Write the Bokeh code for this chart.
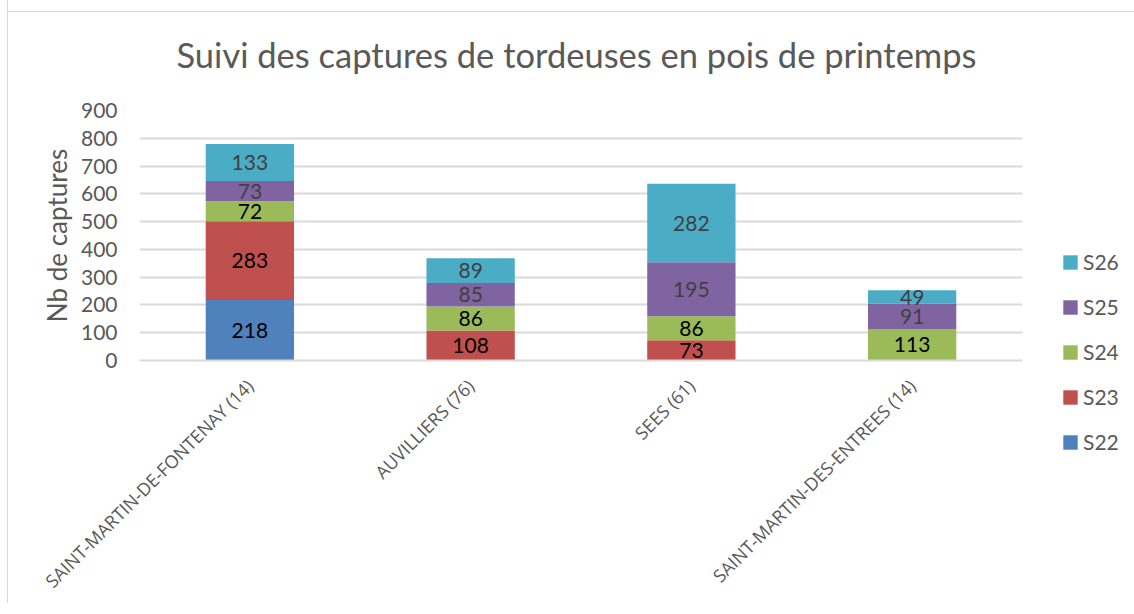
from math import pi
from bokeh.plotting import figure
from bokeh.models import ColumnDataSource, FactorRange, Range1d, Legend, LegendItem, FixedTicker
from bokeh.core.properties import value
from bokeh.embed import file_html
from bokeh.resources import INLINE

categories = ["SAINT-MARTIN-DE-FONTENAY (14)", "AUVILLIERS (76)", "SEES (61)", "SAINT-MARTIN-DES-ENTREES (14)"]
series = ["S22", "S23", "S24", "S25", "S26"]
S22 = [218, 0, 0, 0]
S23 = [283, 108, 73, 0]
S24 = [72, 86, 86, 113]
S25 = [73, 85, 195, 91]
S26 = [133, 89, 282, 49]
colors = ["#4F81BD", "#C0504D", "#9BBB59", "#8064A2", "#4BACC6"]
label_colors = ["#000000", "#000000", "#000000", "#404040", "#404040"]
y_ticks = [0, 100, 200, 300, 400, 500, 600, 700, 800, 900]

FONT = "Lato"
data = {"cat": categories, "S22": S22, "S23": S23, "S24": S24, "S25": S25, "S26": S26}
src = ColumnDataSource(data)

p = figure(x_range=FactorRange(*categories), y_range=Range1d(0, 900),
           frame_width=883, frame_height=250,
           min_border_left=131, min_border_right=103, min_border_top=0, min_border_bottom=240,
           output_backend="svg", toolbar_location=None, title="Suivi des captures de tordeuses en pois de printemps")
p.border_fill_color = None
p.background_fill_color = "white"
p.styles = {"margin-top": "-5px", "margin-left": "7px",
            "border-left": "1px solid #d9d9d9",
            "background-image": "linear-gradient(#d9d9d9, #d9d9d9)",
            "background-size": "100% 1px", "background-repeat": "no-repeat",
            "background-position": "0 16px"}

renderers = p.vbar_stack(series, x="cat", width=0.4, color=colors, line_color=None, source=src)

# data labels
lx, ly, lt, lc = [], [], [], []
base = [0] * len(categories)
for s, col in zip(series, label_colors):
    vals = data[s]
    for i, v in enumerate(vals):
        if v > 0:
            lx.append(categories[i]); ly.append(base[i] + v / 2); lt.append(str(v)); lc.append(col)
        base[i] += v
p.text(x="cat", y="y", text="t", text_color="c", source=ColumnDataSource(dict(cat=lx, y=ly, t=lt, c=lc)),
       text_align="center", text_baseline="middle", text_font=value(FONT), text_font_size="21px")

p.title.text_font = FONT
p.title.text_font_size = "34.5px"
p.title.text_font_style = "normal"
p.title.text_color = "#595959"
p.title.align = "left"
p.title.offset = 37
p.title.standoff = 72

p.yaxis.ticker = FixedTicker(ticks=y_ticks)
p.yaxis.axis_line_color = None
p.yaxis.major_tick_line_color = None
p.yaxis.minor_tick_line_color = None
p.yaxis.major_label_standoff = 16
p.yaxis.major_label_text_font = FONT
p.yaxis.major_label_text_font_size = "21px"
p.yaxis.major_label_text_color = "#595959"
p.yaxis.axis_label = "Nb de captures"
p.yaxis.axis_label_text_font = FONT
p.yaxis.axis_label_text_font_size = "26px"
p.yaxis.axis_label_text_font_style = "normal"
p.yaxis.axis_label_text_color = "#595959"
p.yaxis.axis_label_standoff = 5

p.xaxis.axis_line_color = "#d9d9d9"
p.xaxis.axis_line_width = 2
p.xaxis.major_tick_line_color = None
p.xaxis.minor_tick_line_color = None
p.xaxis.major_label_orientation = pi / 4
p.xaxis.major_label_text_font = "Open Sans"
p.xaxis.major_label_text_font_size = "18px"
p.xaxis.major_label_text_color = "#595959"
p.xaxis.major_label_standoff = 16

p.xgrid.grid_line_color = None
p.ygrid.grid_line_color = "#d9d9d9"
p.ygrid.grid_line_width = 2
p.outline_line_color = None
p.x_range.range_padding = 0

items = [LegendItem(label=s, renderers=[r]) for s, r in zip(series, renderers)][::-1]
legend = Legend(items=items, location=(39, -94), orientation="vertical",
                glyph_width=18, glyph_height=18, label_height=18, spacing=20, label_standoff=4,
                padding=0, margin=0, border_line_color=None, background_fill_alpha=0,
                label_text_font=FONT, label_text_font_size="21px", label_text_color="#595959")
p.add_layout(legend, "right")

open("out.html", "w").write(file_html(p, INLINE))
